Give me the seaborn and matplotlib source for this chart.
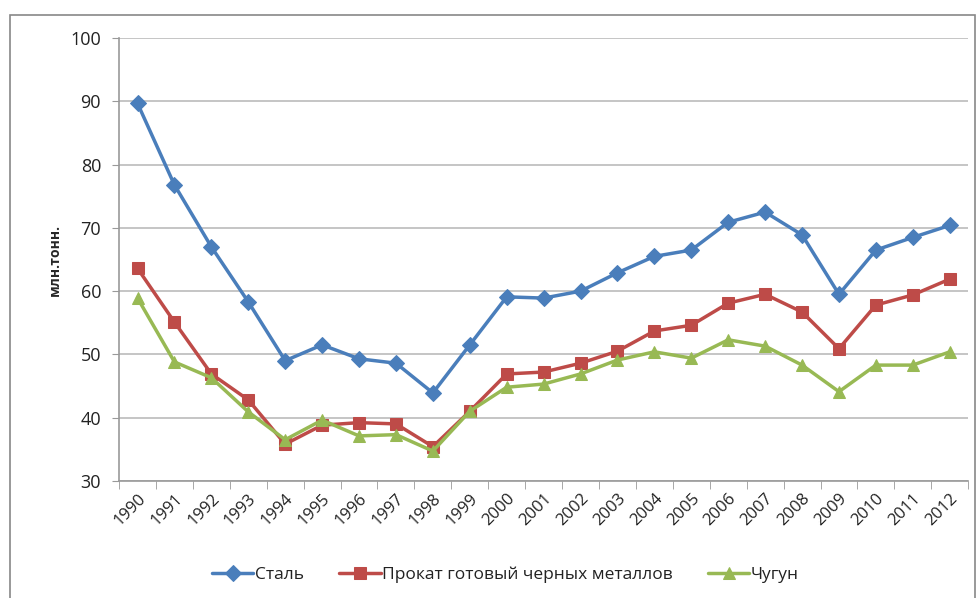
import numpy as np
import pandas as pd
import matplotlib
matplotlib.use("Agg")
import matplotlib.pyplot as plt
from matplotlib.patches import Rectangle
import seaborn as sns

years = [str(y) for y in range(1990, 2013)]
steel = [89.7, 76.8, 67.0, 58.3, 49.0, 51.5, 49.3, 48.6, 43.9, 51.5, 59.1, 58.9,
         60.0, 62.9, 65.5, 66.5, 70.9, 72.5, 68.9, 59.5, 66.5, 68.5, 70.4]
rolled = [63.6, 55.1, 46.9, 42.8, 35.8, 38.8, 39.2, 39.0, 35.4, 41.0, 46.9, 47.2,
          48.6, 50.5, 53.7, 54.6, 58.1, 59.5, 56.7, 50.9, 57.8, 59.4, 61.9]
pig_iron = [58.9, 48.8, 46.3, 40.9, 36.5, 39.6, 37.1, 37.3, 34.7, 41.0, 44.8, 45.3,
            46.9, 49.1, 50.4, 49.4, 52.3, 51.3, 48.3, 44.1, 48.3, 48.3, 50.4]
names = ["Сталь", "Прокат готовый черных металлов", "Чугун"]
colors = ["#4A7EBB", "#BE4B48", "#98B954"]
markers = ["D", "s", "^"]
msizes = [8, 9, 9]

sns.set_style("white")
plt.rcParams['font.family'] = ['Open Sans', 'DejaVu Sans']

fig = plt.figure(figsize=(9.76, 5.98), dpi=100)
ax = fig.add_axes([0.122, 0.196, 0.870, 0.740])

for vals, name, c, m, ms in zip([steel, rolled, pig_iron], names, colors, markers, msizes):
    df = pd.DataFrame({"year": years, "value": vals})
    sns.lineplot(data=df, x="year", y="value", ax=ax, color=c, marker=m,
                 markersize=ms, markeredgecolor=c, linewidth=2.5, label=name, sort=False)

ax.set_xlim(-0.5, len(years) - 0.5)
ax.set_ylim(30, 100)
ax.set_yticks(np.arange(30, 101, 10))
ax.yaxis.grid(True, color="#BBBBBB", linewidth=1.2)
ax.set_axisbelow(True)
ax.set_xlabel("")
ax.set_ylabel("млн.тонн.", fontsize=10, fontweight="bold", labelpad=6)

for s in ["top", "right"]:
    ax.spines[s].set_visible(False)
for s in ["left", "bottom"]:
    ax.spines[s].set_color("#999999")
    ax.spines[s].set_linewidth(1.2)

ax.set_xticks(np.arange(len(years)))
ax.set_xticklabels(years, rotation=45, ha="right", rotation_mode="anchor", fontsize=12,
                   color="#222222")
ax.set_xticks(np.arange(-0.5, len(years), 1), minor=True)
ax.tick_params(axis="x", which="major", length=0, pad=7)
ax.tick_params(axis="x", which="minor", length=6, color="#999999", direction="out", bottom=True)
ax.tick_params(axis="y", length=5, color="#999999", direction="out", left=True, labelsize=13,
               pad=8, labelcolor="#222222")

ax.legend(loc="center", bbox_to_anchor=(0.455, -0.213), ncol=3, frameon=False,
          fontsize=12.5, handlelength=2.4, handletextpad=0.1, columnspacing=2.0,
          labelcolor="#222222")

fig.patches.append(Rectangle((10 / 976, -0.02), 965 / 976, 1 - 15 / 598 + 0.02,
                             transform=fig.transFigure, fill=False,
                             edgecolor="#888888", linewidth=1.2))

fig.savefig("out.png", dpi=100)
